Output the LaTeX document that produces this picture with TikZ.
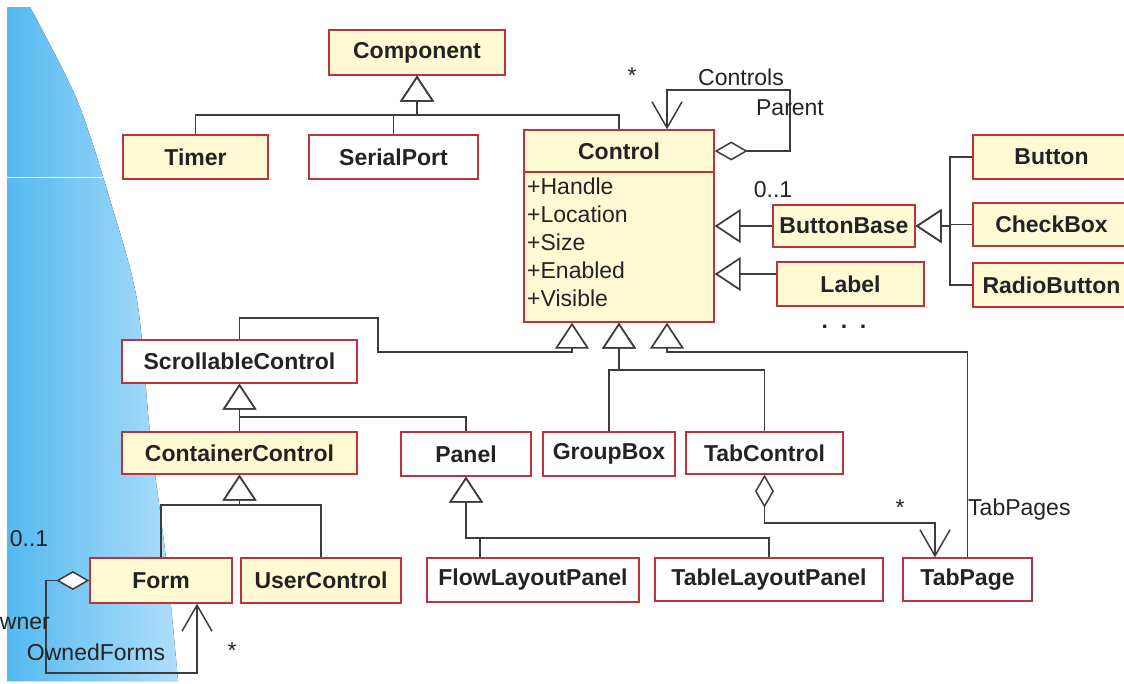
\documentclass[tikz,border=0pt]{standalone}
\usepackage{fontspec}
\setmainfont{Liberation Sans}
\usetikzlibrary{arrows.meta,positioning,calc}
\definecolor{boxred}{RGB}{190,50,60}
\definecolor{boxyellow}{RGB}{255,250,212}
\definecolor{lncol}{RGB}{60,60,60}
\definecolor{txtcol}{RGB}{35,35,35}
\definecolor{skyblue}{RGB}{85,185,240}
\definecolor{skylight}{RGB}{175,222,250}
\tikzset{
  cls/.style={rectangle,draw=boxred,line width=1.4pt,fill=white,text=txtcol,
              font=\fontsize{23}{26}\selectfont\bfseries,inner sep=0pt},
  clsY/.style={cls,fill=boxyellow},
  gen/.style={draw=lncol,line width=1.7pt,
              -{Triangle[length=26pt,width=34pt,fill=white]}},
  agg/.style={draw=lncol,line width=1.5pt,
              {Diamond[length=33pt,width=19pt,fill=white]}-{Straight Barb[length=26pt,width=30pt]}},
  lbl/.style={text=txtcol,font=\fontsize{23}{26}\selectfont,inner sep=0pt},
}

\begin{document}
\begin{tikzpicture}[x=1pt,y=-1pt]
  \useasboundingbox (0,0) rectangle (1124,683);
  \clip (0,0) rectangle (1124,683);
  % backdrop
  \fill[left color=skyblue,right color=skylight] (7,7) -- plot[smooth] coordinates
    {(30,7) (77,100) (110,200) (137,300) (150,433) (167,567) (178,681)} -- (7,681) -- cycle;
  \draw[white,line width=1pt] (7,177) -- (103,177);

  % classes
  \node[clsY,minimum width=176pt,minimum height=45pt] (comp) at (417,52.5) {Component};
  \node[clsY,minimum width=145pt,minimum height=44pt] (timer) at (195.5,157) {Timer};
  \node[cls,minimum width=169pt,minimum height=44pt] (serial) at (393.5,157) {SerialPort};
  \node[clsY,minimum width=190pt,minimum height=42pt] (ctrlhead) at (619,151) {Control};
  \node[clsY,minimum width=190pt,minimum height=150pt] (ctrlbody) at (619,247) {};
  \node[lbl,align=left,anchor=north west,font=\fontsize{23}{28}\selectfont] (attrs)
    at (527,178) {+Handle\\+Location\\+Size\\+Enabled\\+Visible};
  \node[clsY,minimum width=142pt,minimum height=42pt] (bbase) at (844,226) {ButtonBase};
  \node[clsY,minimum width=147pt,minimum height=44pt] (lab) at (850.5,284) {Label};
  \node[clsY,minimum width=157pt,minimum height=44pt] (btn) at (1051.5,157) {Button};
  \node[clsY,minimum width=157pt,minimum height=43pt] (chk) at (1051.5,224.5) {CheckBox};
  \node[clsY,minimum width=157pt,minimum height=44pt] (radio) at (1051.5,285) {RadioButton};
  \node[cls,minimum width=235pt,minimum height=43pt] (scroll) at (239.5,361.5) {ScrollableControl};
  \node[clsY,minimum width=235pt,minimum height=42pt] (cont) at (239.5,453) {ContainerControl};
  \node[cls,minimum width=130pt,minimum height=44pt] (panel) at (466,454) {Panel};
  \node[cls,minimum width=132pt,minimum height=44pt] (gbox) at (609,454) {GroupBox};
  \node[cls,minimum width=157pt,minimum height=42pt] (tabctl) at (764.5,453) {TabControl};
  \node[clsY,minimum width=142pt,minimum height=45pt] (form) at (161,580.5) {Form};
  \node[clsY,minimum width=160pt,minimum height=45pt] (uctl) at (321,580.5) {UserControl};
  \node[cls,minimum width=212pt,minimum height=44pt] (flow) at (533,580) {FlowLayoutPanel};
  \node[cls,minimum width=228pt,minimum height=43pt] (table) at (769,579.5) {TableLayoutPanel};
  \node[cls,minimum width=129pt,minimum height=43pt] (tabpage) at (967.5,579.5) {TabPage};

  % bends
  \coordinate (compbus) at (417,115);
  \coordinate (bbbus) at (950,226);
  \coordinate (sckink) at (378,318);
  \coordinate (busL) at (572,352);
  \coordinate (busM) at (619,370);
  \coordinate (busR) at (667,352);
  \coordinate (scbus) at (239.5,417);
  \coordinate (cbus) at (239.5,505);
  \coordinate (pbus) at (466,538);
  \coordinate (selfkink) at (790,90);
  \coordinate (ownkink) at (46,673);
  \coordinate (tabkink) at (935,523);

  % inheritance
  \draw[gen] (timer.north) |- (compbus) -- (comp.south);
  \draw[gen] (serial.north) |- (compbus) -- (comp.south);
  \draw[gen] (ctrlhead.north) |- (compbus) -- (comp.south);
  \draw[gen] (bbase.west) -- (bbase.west -| ctrlbody.east);
  \draw[gen] ([yshift=10pt]lab.west) -- ([yshift=10pt]lab.west -| ctrlbody.east);
  \draw[gen] (btn.west) -| (bbbus) -- (bbase.east);
  \draw[gen] (chk.west) -| (bbbus) -- (bbase.east);
  \draw[gen] (radio.west) -| (bbbus) -- (bbase.east);
  \draw[gen] (scroll.north) |- (sckink) |- (busL) -- (busL |- ctrlbody.south);
  \draw[gen] (gbox.north) |- (busM) -- (busM |- ctrlbody.south);
  \draw[gen] (tabctl.north) |- (busM) -- (busM |- ctrlbody.south);
  \draw[gen] (tabpage.north) |- (busR) -- (busR |- ctrlbody.south);
  \draw[gen] (cont.north) -- (scroll.south);
  \draw[gen] (panel.north) |- (scbus) -- (scroll.south);
  \draw[gen] (form.north) |- (cbus) -- (cont.south);
  \draw[gen] (uctl.north) |- (cbus) -- (cont.south);
  \draw[gen] ([xshift=-53pt]flow.north) |- (pbus) -- (panel.south);
  \draw[gen] (table.north) |- (pbus) -- (panel.south);

  % associations
  \draw[agg] (ctrlhead.east) -| (selfkink) -| ([xshift=48pt]ctrlhead.north);
  \draw[agg] (form.west) -| (ownkink) -| ([xshift=36pt]form.south);
  \draw[agg] (tabctl.south) |- (tabkink) -- (tabkink |- tabpage.north);

  % role names
  \node[lbl] (mstar) at (632,76) {*};
  \node[lbl] (ctrlsname) at (741,77) {Controls};
  \node[lbl] (parname) at (790,108) {Parent};
  \node[lbl] (bbmult) at (773,190) {0..1};
  \node[lbl,font=\fontsize{23}{26}\selectfont\bfseries] (more) at (844,327) {.\ \ .\ \ .};
  \node[lbl] (fmult) at (29,539) {0..1};
  \node[lbl,anchor=east] (owner) at (50,622) {Owner};
  \node[lbl] (ownforms) at (96,652) {OwnedForms};
  \node[lbl] (fstar) at (232,651) {*};
  \node[lbl] (tstar) at (900,508) {*};
  \node[lbl,anchor=west] (tpname) at (968,510) {TabPages};
\end{tikzpicture}
\end{document}
